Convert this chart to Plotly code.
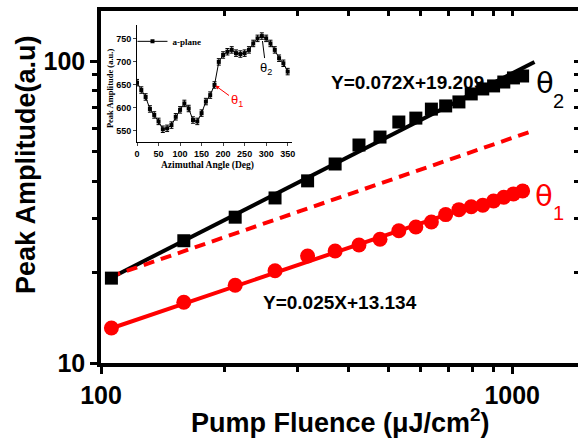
import plotly.graph_objects as go

# ---------------- data ----------------
fluence = [106, 159, 212, 265, 318, 371, 424, 477, 530, 583, 636, 689, 742, 795, 848, 901, 954, 1007, 1060]
amp_theta2 = [19.1, 25.4, 30.4, 35.2, 40.1, 45.6, 52.7, 56.0, 62.8, 64.7, 69.3, 71.0, 73.2, 77.8, 80.8, 82.7, 85.2, 87.9, 89.2]
amp_theta1 = [13.06, 15.9, 18.1, 20.2, 22.6, 23.5, 24.6, 25.7, 27.4, 28.2, 29.3, 31.0, 32.2, 32.9, 33.3, 34.4, 35.4, 36.3, 37.1]

fit2_x = [103, 1133]
fit2_y = [18.8, 99.2]
fit1_x = [103, 1095]
fit1_y = [12.86, 38.3]
dash_x = [105, 1114]
dash_y = [19.3, 58.5]

x_ticks = [100, 1000]
x_minor = [200, 300, 400, 500, 600, 700, 800, 900]
y_ticks = [10, 100]
y_minor = [20, 30, 40, 50, 60, 70, 80, 90]

# inset
angle = [0, 10, 20, 30, 40, 50, 60, 70, 80, 90, 100, 110, 120, 130, 140, 150, 160, 170,
         180, 190, 200, 210, 220, 230, 240, 250, 260, 270, 280, 290, 300, 310, 320, 330, 340, 350]
aplane = [654, 638, 623, 597, 584, 570, 553, 555, 562, 580, 595, 609, 598, 573, 570, 588, 613, 627,
          649, 699, 714, 721, 725, 718, 716, 718, 725, 739, 750, 755, 750, 739, 725, 707, 696, 678]
aplane_err = 7
inset_xticks = [0, 50, 100, 150, 200, 250, 300, 350]
inset_yticks = [550, 600, 650, 700, 750]

SANS = "Liberation Sans, Arial, sans-serif"
SERIF = "Liberation Serif, Times New Roman, serif"

fig = go.Figure()

# main fits
fig.add_trace(go.Scatter(x=fit2_x, y=fit2_y, mode="lines", line=dict(color="black", width=4),
                         showlegend=False, hoverinfo="skip"))
fig.add_trace(go.Scatter(x=dash_x, y=dash_y, mode="lines", line=dict(color="#ff0000", width=4, dash="11px,7px"),
                         showlegend=False, hoverinfo="skip"))
fig.add_trace(go.Scatter(x=fit1_x, y=fit1_y, mode="lines", line=dict(color="#ff0000", width=4),
                         showlegend=False, hoverinfo="skip"))
# main data
fig.add_trace(go.Scatter(x=fluence, y=amp_theta2, mode="markers",
                         marker=dict(symbol="square", size=13, color="black"), showlegend=False))
fig.add_trace(go.Scatter(x=fluence, y=amp_theta1, mode="markers",
                         marker=dict(symbol="circle", size=15, color="#ff0000"), showlegend=False))
# invisible carriers for the mirrored-frame and minor-tick axes
fig.add_trace(go.Scatter(x=[fluence[0]], y=[amp_theta2[0]], xaxis="x2", yaxis="y2", mode="markers",
                         marker=dict(opacity=0), showlegend=False, hoverinfo="skip"))
fig.add_trace(go.Scatter(x=[fluence[0]], y=[amp_theta2[0]], xaxis="x4", yaxis="y4", mode="markers",
                         marker=dict(opacity=0), showlegend=False, hoverinfo="skip"))

# inset trace
fig.add_trace(go.Scatter(x=angle, y=aplane, xaxis="x3", yaxis="y3", mode="lines+markers",
                         name="a-plane",
                         line=dict(color="black", width=1),
                         marker=dict(symbol="square", size=4, color="black"),
                         error_y=dict(type="constant", value=aplane_err, color="black", thickness=1, width=2)))

xr = [2, 3.16]
yr = [1, 2.1656]
all_x = sorted(x_ticks + x_minor)
all_y = sorted(y_ticks + y_minor)

fig.update_layout(
    width=578, height=441,
    margin=dict(l=101, r=0, t=11, b=78, autoexpand=False),
    paper_bgcolor="white", plot_bgcolor="white",
    font=dict(family=SANS, color="black"),
    xaxis=dict(type="log", range=xr, domain=[0, 1], anchor="y", tickangle=0, automargin=False,
               tickmode="array", tickvals=x_ticks, ticktext=[str(v) for v in x_ticks],
               ticks="outside", ticklen=7, tickwidth=3, tickcolor="black",
               showline=True, mirror=True, linewidth=3.5, linecolor="black", showgrid=False, zeroline=False,
               tickfont=dict(family=SANS, size=25, weight="bold")),
    yaxis=dict(type="log", range=yr, domain=[0, 1], anchor="x", tickangle=0, automargin=False,
               tickmode="array", tickvals=y_ticks, ticktext=[str(v) for v in y_ticks],
               ticks="outside", ticklen=7, tickwidth=3, tickcolor="black",
               showline=True, linewidth=3.5, linecolor="black", showgrid=False, zeroline=False,
               tickfont=dict(family=SANS, size=25, weight="bold")),
    # minor ticks, bottom / left (outside)
    xaxis4=dict(type="log", range=xr, overlaying="x", side="bottom", anchor="y4",
                tickmode="array", tickvals=x_minor, showticklabels=False,
                ticks="outside", ticklen=8, tickwidth=3, tickcolor="black",
                showline=False, showgrid=False, zeroline=False),
    yaxis4=dict(type="log", range=yr, overlaying="y", side="left", anchor="x4",
                tickmode="array", tickvals=y_minor, showticklabels=False,
                ticks="outside", ticklen=8, tickwidth=3, tickcolor="black",
                showline=False, showgrid=False, zeroline=False),
    # mirrored frame, top / right (inside ticks)
    xaxis2=dict(type="log", range=xr, overlaying="x", side="top", anchor="y2",
                tickmode="array", tickvals=all_x, showticklabels=False,
                ticks="inside", ticklen=5, tickwidth=3, tickcolor="black",
                showline=False, showgrid=False, zeroline=False),
    yaxis2=dict(type="log", range=yr, overlaying="y", side="right", anchor="x2",
                tickmode="array", tickvals=all_y, showticklabels=False,
                ticks="inside", ticklen=4, tickwidth=3, tickcolor="black",
                showline=False, showgrid=False, zeroline=False),
    xaxis3=dict(domain=[0.0755, 0.4004], anchor="y3", range=[0, 360],
                tickmode="array", tickvals=inset_xticks, ticks="outside", ticklen=3, tickwidth=1,
                showline=True, linewidth=1, linecolor="black", showgrid=False, zeroline=False,
                tickfont=dict(family=SANS, size=9, weight="bold")),
    yaxis3=dict(domain=[0.628, 0.960], anchor="x3", range=[525.5, 778.8],
                tickmode="array", tickvals=inset_yticks, ticks="outside", ticklen=3, tickwidth=1,
                showline=True, linewidth=1, linecolor="black", showgrid=False, zeroline=False,
                tickfont=dict(family=SANS, size=9, weight="bold")),
    showlegend=True,
    legend=dict(x=0.066, y=0.955, xanchor="left", yanchor="top", bgcolor="rgba(0,0,0,0)",
                font=dict(family=SERIF, size=9, weight="bold"), itemwidth=30, borderwidth=0),
)

ann = []
# axis titles
ann.append(dict(text="Peak Amplitude(a.u)", xref="paper", yref="paper", x=-0.157, y=0.5625,
                textangle=-90, showarrow=False, xanchor="center", yanchor="middle",
                font=dict(family=SANS, size=27, weight="bold")))
ann.append(dict(text="Pump Fluence (\u03bcJ/cm<sup>2</sup>)", xref="paper", yref="paper", x=0.503, y=-0.165,
                showarrow=False, xanchor="center", yanchor="middle",
                font=dict(family=SANS, size=27, weight="bold")))
# equations
ann.append(dict(text="Y=0.072X+19.209", xref="paper", yref="paper", x=0.6436, y=0.798,
                showarrow=False, xanchor="center", yanchor="middle",
                font=dict(family=SANS, size=19, weight="bold")))
ann.append(dict(text="Y=0.025X+13.134", xref="paper", yref="paper", x=0.501, y=0.173,
                showarrow=False, xanchor="center", yanchor="middle",
                font=dict(family=SANS, size=19, weight="bold")))


def px2paper(px, py):
    return (px - 101) / 477, (363 - py) / 352


# theta labels (main)
for sym, sub, col, (cx, cy), (sx, sy) in [
    ("\u03b8", "2", "black", (545, 83), (558, 101)),
    ("\u03b8", "1", "#ff0000", (544, 196), (558, 213)),
]:
    x0, y0 = px2paper(cx, cy)
    x1, y1 = px2paper(sx, sy)
    ann.append(dict(text=sym, xref="paper", yref="paper", x=x0, y=y0, showarrow=False,
                    xanchor="center", yanchor="middle", font=dict(family="DejaVu Sans", size=29, color=col)))
    ann.append(dict(text=sub, xref="paper", yref="paper", x=x1, y=y1, showarrow=False,
                    xanchor="center", yanchor="middle", font=dict(family=SANS, size=20, color=col)))

# inset titles
ann.append(dict(text="Peak Amplitude (a.u.)", xref="paper", yref="paper", x=0.0189, y=0.781,
                textangle=-90, showarrow=False, xanchor="center", yanchor="middle",
                font=dict(family=SERIF, size=8.5, weight="bold")))
ann.append(dict(text="Azimuthal Angle (Deg)", xref="paper", yref="paper", x=0.224, y=0.5625,
                showarrow=False, xanchor="center", yanchor="middle",
                font=dict(family=SERIF, size=9.5, weight="bold")))
# inset theta markers
ann.append(dict(text="\u03b8<sub>1</sub>", xref="x3", yref="y3", x=angle[18], y=aplane[18],
                ax=22, ay=16, showarrow=True, arrowhead=2, arrowsize=0.8, arrowwidth=1,
                arrowcolor="#ff0000", standoff=1, font=dict(family=SANS, size=13, color="#ff0000")))
ann.append(dict(text="\u03b8<sub>2</sub>", xref="x3", yref="y3", x=angle[29], y=aplane[29],
                ax=4, ay=32, showarrow=True, arrowhead=0, arrowwidth=1,
                arrowcolor="black", standoff=5, font=dict(family=SANS, size=13, color="black")))
fig.update_layout(annotations=ann)

fig.write_html("out.html")
